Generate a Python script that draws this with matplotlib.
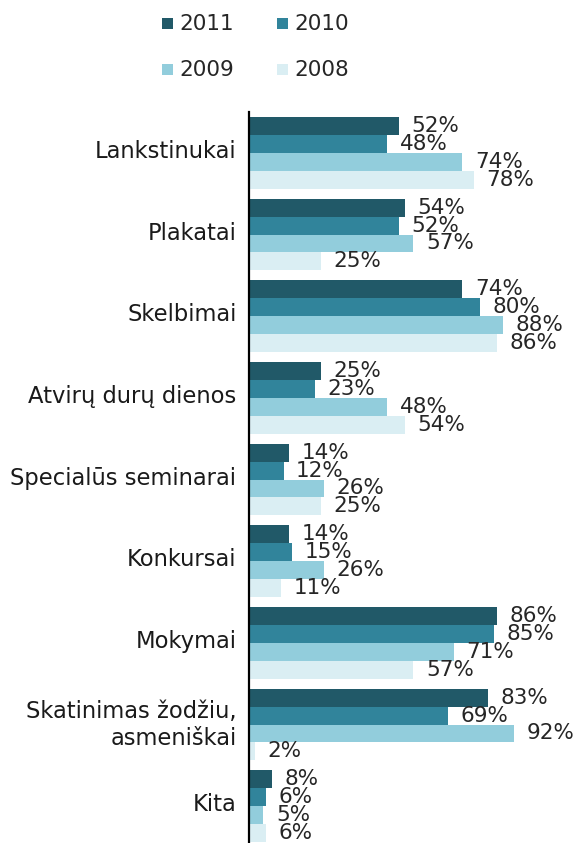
import matplotlib
matplotlib.use("Agg")
import matplotlib.pyplot as plt
from matplotlib.patches import Rectangle
from matplotlib.transforms import ScaledTranslation
import numpy as np

categories = ["Lankstinukai", "Plakatai", "Skelbimai", "Atvirų durų dienos",
              "Specialūs seminarai", "Konkursai", "Mokymai",
              "Skatinimas žodžiu,\nasmeniškai", "Kita"]
series_names = ["2011", "2010", "2009", "2008"]
v2011 = [52, 54, 74, 25, 14, 14, 86, 83, 8]
v2010 = [48, 52, 80, 23, 12, 15, 85, 69, 6]
v2009 = [74, 57, 88, 48, 26, 26, 71, 92, 5]
v2008 = [78, 25, 86, 54, 25, 11, 57, 2, 6]
colors = ["#215968", "#31849B", "#92CDDC", "#DAEEF3"]

W, H = 579, 843
fig = plt.figure(figsize=(W / 100, H / 100), dpi=100)
ax = fig.add_axes([249 / W, -4 / H, 1 - 249 / W, 1 - 108 / H])

series = [v2011, v2010, v2009, v2008]
n = len(categories)
y = np.arange(n)
bh = 0.22
for j, vals in enumerate(series):
    pos = y + (j - 1.5) * bh
    ax.barh(pos, vals, height=bh, color=colors[j], edgecolor="none")
    for p, v in zip(pos, vals):
        ax.annotate(f"{v}%", (v, p), xytext=(9, 0), textcoords="offset points",
                    ha="left", va="center", fontsize=15.5, color="#262626")

ax.set_ylim(n - 0.5, -0.5)
ax.set_xlim(0, 114.4)
ax.set_yticks(y)
ax.set_yticklabels(categories, fontsize=16.3, color="#1a1a1a", linespacing=1.2)
ax.tick_params(axis="y", length=0, pad=9)
shift = ScaledTranslation(0, 4 / 100, fig.dpi_scale_trans)
for lab in ax.get_yticklabels():
    lab.set_transform(lab.get_transform() + shift)
ax.set_xticks([])
for s in ["top", "right", "bottom"]:
    ax.spines[s].set_visible(False)
ax.spines["left"].set_linewidth(1.6)
ax.spines["left"].set_color("black")

# legend
leg = [(162, 18, 0), (277, 18, 1), (162, 64, 2), (277, 64, 3)]
for x0, y0, j in leg:
    fig.add_artist(Rectangle((x0 / W, 1 - (y0 + 11) / H), 11 / W, 11 / H,
                             transform=fig.transFigure, color=colors[j], lw=0))
    fig.text((x0 + 17) / W, 1 - (y0 + 5.5) / H, series_names[j], fontsize=15.5,
             color="#262626", ha="left", va="center")

fig.savefig("out.png", dpi=100)
